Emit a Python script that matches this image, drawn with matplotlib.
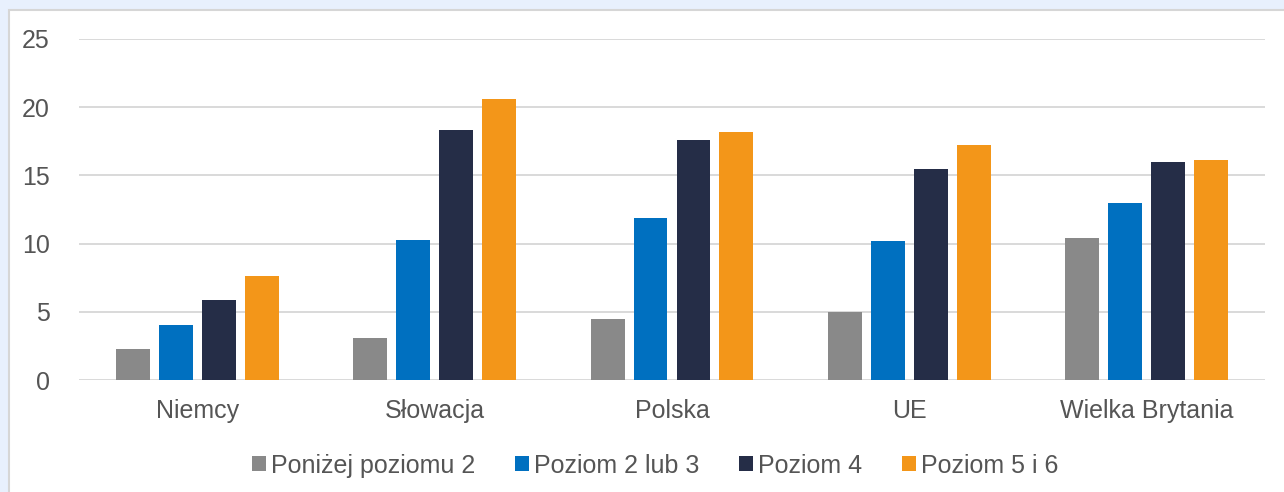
import matplotlib.pyplot as plt
import numpy as np
from matplotlib.patches import Rectangle

categories = ['Niemcy', 'Słowacja', 'Polska', 'UE', 'Wielka Brytania']
series_names = ['Poniżej poziomu 2', 'Poziom 2 lub 3', 'Poziom 4', 'Poziom 5 i 6']
below_2 = [2.3, 3.1, 4.5, 5.0, 10.4]
level_2_3 = [4.0, 10.3, 11.9, 10.2, 13.0]
level_4 = [5.9, 18.3, 17.6, 15.5, 16.0]
level_5_6 = [7.6, 20.6, 18.2, 17.2, 16.1]
colors = ['#898989', '#0070C0', '#252D47', '#F39619']

plt.rcParams['font.family'] = ['Liberation Sans', 'DejaVu Sans']

fig = plt.figure(figsize=(12.84, 4.92), dpi=100)
fig.patch.set_facecolor('#E8F0FD')
# white panel with thin grey border
W, H = 1284, 492
fig.add_artist(Rectangle((9 / W, -0.01), 1.0, 1 - 10 / H + 0.01, transform=fig.transFigure,
                         facecolor='white', edgecolor='#D6D6D6', linewidth=1.5, zorder=-5))

ax = fig.add_axes([79 / W, 1 - 380 / H, (1265 - 79) / W, (380 - 39) / H])
ax.set_facecolor('none')

x = np.arange(len(categories))
width = 0.143
step = 0.181
data = [below_2, level_2_3, level_4, level_5_6]
for i, (vals, name, c) in enumerate(zip(data, series_names, colors)):
    ax.bar(x + (i - 1.5) * step, vals, width, color=c, label=name, zorder=3)

ax.set_xlim(-0.5, len(categories) - 0.5)
ax.set_ylim(0, 25)
ax.set_yticks([0, 5, 10, 15, 20, 25])
ax.yaxis.grid(True, color='#D9D9D9', linewidth=1.4, zorder=0)
ax.set_xticks(x)
ax.set_xticklabels(categories)
for s in ax.spines.values():
    s.set_visible(False)
ax.tick_params(axis='both', length=0, labelsize=18, labelcolor='#555555')
ax.tick_params(axis='y', pad=21)
ax.tick_params(axis='x', pad=14)

leg = ax.legend(loc='upper center', bbox_to_anchor=(0.486, -0.15), ncol=4, frameon=False,
                handlelength=0.55, handleheight=0.55, handletextpad=0.2, columnspacing=1.6,
                prop={'size': 18})
for t in leg.get_texts():
    t.set_color('#555555')

fig.savefig('out.png', dpi=100, facecolor=fig.get_facecolor())
